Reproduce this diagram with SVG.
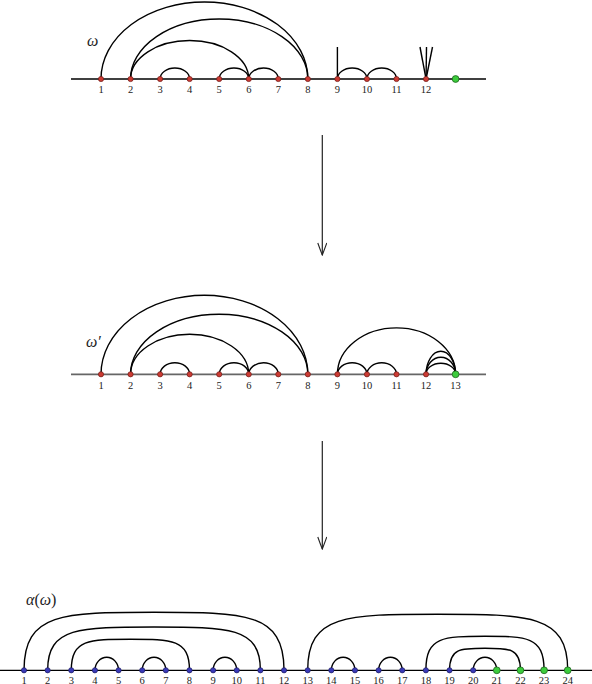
<svg xmlns="http://www.w3.org/2000/svg" width="592" height="684" viewBox="0 0 592 684">
<defs>
<style>
.axis{stroke:#000;stroke-width:1.3;fill:none}
.axis2{stroke:#666;stroke-width:1.8;fill:none}
.arc{stroke:#000;stroke-width:1.4;fill:none}
.arrow{stroke:#222;stroke-width:1.2;fill:none}
.r{fill:#cc3b33;stroke:#6e1a16;stroke-width:0.7}
.b{fill:#3a3ab8;stroke:#1a1a60;stroke-width:0.7}
.g{fill:#3ccc3c;stroke:#1e641e;stroke-width:0.8}
.lbl{font-family:"Liberation Serif","DejaVu Serif",serif;font-size:10.5px;fill:#222;text-anchor:middle}
.greek{font-family:"Liberation Serif","DejaVu Serif",serif;font-size:16px;font-style:italic;fill:#222}
</style>
<marker id="ah" viewBox="0 0 14 10" refX="13" refY="5" markerWidth="14" markerHeight="10" markerUnits="userSpaceOnUse" orient="auto">
<path d="M1 0.5 Q8 3 13 5 Q8 7 1 9.5" fill="none" stroke="#222" stroke-width="1.1"/>
</marker>
</defs>
<rect width="592" height="684" fill="#fff"/>

<g id="axes">
<line class="axis" x1="71" y1="79" x2="486" y2="79"/>
<line class="axis2" x1="71" y1="374.3" x2="486" y2="374.3"/>
<line class="axis" x1="0" y1="670.3" x2="592" y2="670.3"/>
</g>

<g id="titles">
<text class="greek" x="87" y="46">ω</text>
<text class="greek" x="86" y="347">ω′</text>
<text class="greek" x="26" y="605">α<tspan font-style="normal">(</tspan>ω<tspan font-style="normal">)</tspan></text>
</g>

<g id="connectors">
<!-- top diagram -->
<path class="arc" d="M101 79 A103.425 77 0 0 1 307.85 79"/>
<path class="arc" d="M130.55 79 A88.65 60 0 0 1 307.85 79"/>
<path class="arc" d="M130.55 79 A59.1 38.5 0 0 1 248.75 79"/>
<path class="arc" d="M160.1 79 A14.775 11 0 0 1 189.65 79"/>
<path class="arc" d="M219.2 79 A14.775 11 0 0 1 248.75 79"/>
<path class="arc" d="M248.75 79 A14.775 11 0 0 1 278.3 79"/>
<path class="arc" d="M337.4 79 A14.775 11 0 0 1 366.95 79"/>
<path class="arc" d="M366.95 79 A14.775 11 0 0 1 396.5 79"/>
<line class="arc" x1="337.4" y1="79" x2="337.4" y2="47"/>
<line class="arc" x1="426.05" y1="79" x2="420" y2="47"/>
<line class="arc" x1="426.05" y1="79" x2="426.5" y2="47"/>
<line class="arc" x1="426.05" y1="79" x2="432.5" y2="47"/>
<!-- middle diagram -->
<path class="arc" d="M101 374.3 A103.425 79 0 0 1 307.85 374.3"/>
<path class="arc" d="M130.55 374.3 A88.65 60 0 0 1 307.85 374.3"/>
<path class="arc" d="M130.55 374.3 A59.1 40 0 0 1 248.75 374.3"/>
<path class="arc" d="M160.1 374.3 A14.775 11.5 0 0 1 189.65 374.3"/>
<path class="arc" d="M219.2 374.3 A14.775 11.5 0 0 1 248.75 374.3"/>
<path class="arc" d="M248.75 374.3 A14.775 11.5 0 0 1 278.3 374.3"/>
<path class="arc" d="M337.4 374.3 A14.775 11.5 0 0 1 366.95 374.3"/>
<path class="arc" d="M366.95 374.3 A14.775 11.5 0 0 1 396.5 374.3"/>
<path class="arc" d="M337.4 374.3 A59.1 46.5 0 0 1 455.6 374.3"/>
<path class="arc" d="M426.05 374.3 A14.775 23 0 0 1 455.6 374.3"/>
<path class="arc" d="M426.05 374.3 A14.775 17 0 0 1 455.6 374.3"/>
<path class="arc" d="M426.05 374.3 A14.775 11 0 0 1 455.6 374.3"/>
<!-- bottom diagram -->
<path class="arc" d="M24 670.3 C24 612.3 63 612.3 154.02 612.3 C245.04 612.3 284.04 612.3 284.04 670.3"/>
<path class="arc" d="M47.64 670.3 C47.64 627 79.54 627 154.02 627 C228.5 627 260.4 627 260.4 670.3"/>
<path class="arc" d="M71.28 670.3 C71.28 639.3 88.98 639.3 130.38 639.3 C171.78 639.3 189.48 639.3 189.48 670.3"/>
<path class="arc" d="M94.92 670.3 A11.82 13 0 0 1 118.56 670.3"/>
<path class="arc" d="M142.2 670.3 A11.82 13 0 0 1 165.84 670.3"/>
<path class="arc" d="M213.12 670.3 A11.82 13 0 0 1 236.76 670.3"/>
<path class="arc" d="M307.68 670.3 C307.68 614.3 346.68 614.3 437.7 614.3 C528.72 614.3 567.72 614.3 567.72 670.3"/>
<path class="arc" d="M331.32 670.3 A11.82 13 0 0 1 354.96 670.3"/>
<path class="arc" d="M378.6 670.3 A11.82 13 0 0 1 402.24 670.3"/>
<path class="arc" d="M425.88 670.3 C425.88 636.3 443.58 636.3 484.98 636.3 C526.38 636.3 544.08 636.3 544.08 670.3"/>
<path class="arc" d="M449.52 670.3 C449.52 648.3 460.12 648.3 484.98 648.3 C509.84 648.3 520.44 648.3 520.44 670.3"/>
<path class="arc" d="M473.16 670.3 A11.82 13 0 0 1 496.8 670.3"/>
<!-- arrows between diagrams -->
<line class="arrow" x1="322.3" y1="135" x2="322.3" y2="255" marker-end="url(#ah)"/>
<line class="arrow" x1="322.3" y1="441" x2="322.3" y2="549" marker-end="url(#ah)"/>
</g>

<g id="top-nodes">
<g id="t1"><circle class="r" cx="101" cy="79" r="2.6"/><text class="lbl" x="101" y="93">1</text></g>
<g id="t2"><circle class="r" cx="130.55" cy="79" r="2.6"/><text class="lbl" x="130.55" y="93">2</text></g>
<g id="t3"><circle class="r" cx="160.1" cy="79" r="2.6"/><text class="lbl" x="160.1" y="93">3</text></g>
<g id="t4"><circle class="r" cx="189.65" cy="79" r="2.6"/><text class="lbl" x="189.65" y="93">4</text></g>
<g id="t5"><circle class="r" cx="219.2" cy="79" r="2.6"/><text class="lbl" x="219.2" y="93">5</text></g>
<g id="t6"><circle class="r" cx="248.75" cy="79" r="2.6"/><text class="lbl" x="248.75" y="93">6</text></g>
<g id="t7"><circle class="r" cx="278.3" cy="79" r="2.6"/><text class="lbl" x="278.3" y="93">7</text></g>
<g id="t8"><circle class="r" cx="307.85" cy="79" r="2.6"/><text class="lbl" x="307.85" y="93">8</text></g>
<g id="t9"><circle class="r" cx="337.4" cy="79" r="2.6"/><text class="lbl" x="337.4" y="93">9</text></g>
<g id="t10"><circle class="r" cx="366.95" cy="79" r="2.6"/><text class="lbl" x="366.95" y="93">10</text></g>
<g id="t11"><circle class="r" cx="396.5" cy="79" r="2.6"/><text class="lbl" x="396.5" y="93">11</text></g>
<g id="t12"><circle class="r" cx="426.05" cy="79" r="2.6"/><text class="lbl" x="426.05" y="93">12</text></g>
<g id="t13"><circle class="g" cx="455.6" cy="79" r="3.4"/></g>
</g>

<g id="middle-nodes">
<g id="m1"><circle class="r" cx="101" cy="374.3" r="2.6"/><text class="lbl" x="101" y="389">1</text></g>
<g id="m2"><circle class="r" cx="130.55" cy="374.3" r="2.6"/><text class="lbl" x="130.55" y="389">2</text></g>
<g id="m3"><circle class="r" cx="160.1" cy="374.3" r="2.6"/><text class="lbl" x="160.1" y="389">3</text></g>
<g id="m4"><circle class="r" cx="189.65" cy="374.3" r="2.6"/><text class="lbl" x="189.65" y="389">4</text></g>
<g id="m5"><circle class="r" cx="219.2" cy="374.3" r="2.6"/><text class="lbl" x="219.2" y="389">5</text></g>
<g id="m6"><circle class="r" cx="248.75" cy="374.3" r="2.6"/><text class="lbl" x="248.75" y="389">6</text></g>
<g id="m7"><circle class="r" cx="278.3" cy="374.3" r="2.6"/><text class="lbl" x="278.3" y="389">7</text></g>
<g id="m8"><circle class="r" cx="307.85" cy="374.3" r="2.6"/><text class="lbl" x="307.85" y="389">8</text></g>
<g id="m9"><circle class="r" cx="337.4" cy="374.3" r="2.6"/><text class="lbl" x="337.4" y="389">9</text></g>
<g id="m10"><circle class="r" cx="366.95" cy="374.3" r="2.6"/><text class="lbl" x="366.95" y="389">10</text></g>
<g id="m11"><circle class="r" cx="396.5" cy="374.3" r="2.6"/><text class="lbl" x="396.5" y="389">11</text></g>
<g id="m12"><circle class="r" cx="426.05" cy="374.3" r="2.6"/><text class="lbl" x="426.05" y="389">12</text></g>
<g id="m13"><circle class="g" cx="455.6" cy="374.3" r="3.4"/><text class="lbl" x="455.6" y="389">13</text></g>
</g>

<g id="bottom-nodes">
<g id="b1"><circle class="b" cx="24" cy="670.3" r="2.6"/><text class="lbl" x="24" y="683.5">1</text></g>
<g id="b2"><circle class="b" cx="47.64" cy="670.3" r="2.6"/><text class="lbl" x="47.64" y="683.5">2</text></g>
<g id="b3"><circle class="b" cx="71.28" cy="670.3" r="2.6"/><text class="lbl" x="71.28" y="683.5">3</text></g>
<g id="b4"><circle class="b" cx="94.92" cy="670.3" r="2.6"/><text class="lbl" x="94.92" y="683.5">4</text></g>
<g id="b5"><circle class="b" cx="118.56" cy="670.3" r="2.6"/><text class="lbl" x="118.56" y="683.5">5</text></g>
<g id="b6"><circle class="b" cx="142.2" cy="670.3" r="2.6"/><text class="lbl" x="142.2" y="683.5">6</text></g>
<g id="b7"><circle class="b" cx="165.84" cy="670.3" r="2.6"/><text class="lbl" x="165.84" y="683.5">7</text></g>
<g id="b8"><circle class="b" cx="189.48" cy="670.3" r="2.6"/><text class="lbl" x="189.48" y="683.5">8</text></g>
<g id="b9"><circle class="b" cx="213.12" cy="670.3" r="2.6"/><text class="lbl" x="213.12" y="683.5">9</text></g>
<g id="b10"><circle class="b" cx="236.76" cy="670.3" r="2.6"/><text class="lbl" x="236.76" y="683.5">10</text></g>
<g id="b11"><circle class="b" cx="260.4" cy="670.3" r="2.6"/><text class="lbl" x="260.4" y="683.5">11</text></g>
<g id="b12"><circle class="b" cx="284.04" cy="670.3" r="2.6"/><text class="lbl" x="284.04" y="683.5">12</text></g>
<g id="b13"><circle class="b" cx="307.68" cy="670.3" r="2.6"/><text class="lbl" x="307.68" y="683.5">13</text></g>
<g id="b14"><circle class="b" cx="331.32" cy="670.3" r="2.6"/><text class="lbl" x="331.32" y="683.5">14</text></g>
<g id="b15"><circle class="b" cx="354.96" cy="670.3" r="2.6"/><text class="lbl" x="354.96" y="683.5">15</text></g>
<g id="b16"><circle class="b" cx="378.6" cy="670.3" r="2.6"/><text class="lbl" x="378.6" y="683.5">16</text></g>
<g id="b17"><circle class="b" cx="402.24" cy="670.3" r="2.6"/><text class="lbl" x="402.24" y="683.5">17</text></g>
<g id="b18"><circle class="b" cx="425.88" cy="670.3" r="2.6"/><text class="lbl" x="425.88" y="683.5">18</text></g>
<g id="b19"><circle class="b" cx="449.52" cy="670.3" r="2.6"/><text class="lbl" x="449.52" y="683.5">19</text></g>
<g id="b20"><circle class="b" cx="473.16" cy="670.3" r="2.6"/><text class="lbl" x="473.16" y="683.5">20</text></g>
<g id="b21"><circle class="g" cx="496.8" cy="670.3" r="3.4"/><text class="lbl" x="496.8" y="683.5">21</text></g>
<g id="b22"><circle class="g" cx="520.44" cy="670.3" r="3.4"/><text class="lbl" x="520.44" y="683.5">22</text></g>
<g id="b23"><circle class="g" cx="544.08" cy="670.3" r="3.4"/><text class="lbl" x="544.08" y="683.5">23</text></g>
<g id="b24"><circle class="g" cx="567.72" cy="670.3" r="3.4"/><text class="lbl" x="567.72" y="683.5">24</text></g>
</g>
</svg>
